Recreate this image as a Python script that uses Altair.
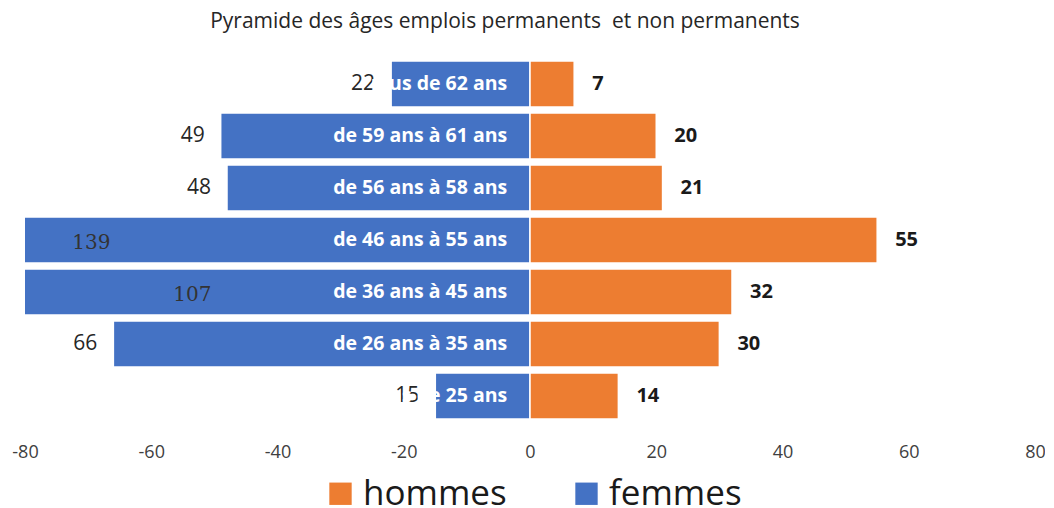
import altair as alt
import pandas as pd

categories = ["plus de 62 ans", "de 59 ans à 61 ans", "de 56 ans à 58 ans",
              "de 46 ans à 55 ans", "de 36 ans à 45 ans", "de 26 ans à 35 ans",
              "moins de 25 ans"]
femmes = [22, 49, 48, 139, 107, 66, 15]
hommes = [7, 20, 21, 55, 32, 30, 14]

BLUE = "#4472C4"
ORANGE = "#ED7D31"
FONT = "Open Sans, sans-serif"

wide = pd.DataFrame({"cat": categories, "femmes": femmes, "hommes": hommes})
long = pd.concat([
    pd.DataFrame({"cat": categories, "sexe": "femmes", "v": [-f for f in femmes]}),
    pd.DataFrame({"cat": categories, "sexe": "hommes", "v": hommes}),
])

ysc = alt.Scale(domain=categories, paddingInner=0.12, paddingOuter=0.06)
xsc = alt.Scale(domain=[-80, 80], nice=False, zero=False)

bars = alt.Chart(long).mark_bar(clip=True, stroke="white", strokeWidth=1.5).encode(
    x=alt.X("v:Q", scale=xsc, title=None,
            axis=alt.Axis(values=list(range(-80, 81, 20)), domain=False, ticks=False,
                          grid=False, labelFontSize=18, labelColor="#404040",
                          labelFont=FONT, labelPadding=21, labelFlush=False,
                          labelBound=False, labelExpr="'' + datum.value")),
    y=alt.Y("cat:N", scale=ysc, axis=None, sort=categories),
    color=alt.Color("sexe:N", title=None,
                    scale=alt.Scale(domain=["hommes", "femmes"], range=[ORANGE, BLUE]),
                    legend=alt.Legend(orient="none", legendX=298, legendY=418,
                                      direction="horizontal", symbolType="square",
                                      symbolSize=500, symbolStrokeWidth=0,
                                      labelFontSize=35, labelFont=FONT,
                                      labelColor="#1a1a1a", labelOffset=5,
                                      columnPadding=62, labelLimit=400)),
)

base = alt.Chart(wide)

fem_out = base.transform_filter("datum.femmes <= 80").transform_calculate(
    px="-datum.femmes").mark_text(align="right", baseline="middle", dx=-16,
                                  fontSize=21, font=FONT, color="#262626").encode(
    x=alt.X("px:Q", scale=xsc), y=alt.Y("cat:N", scale=ysc, sort=categories),
    text="femmes:Q")

fem_in = base.transform_filter("datum.femmes > 80").transform_calculate(
    px="-datum.femmes / 2").mark_text(align="center", baseline="middle", dy=3,
                                      fontSize=20, font="DejaVu Serif, serif",
                                      color="#333333").encode(
    x=alt.X("px:Q", scale=xsc), y=alt.Y("cat:N", scale=ysc, sort=categories),
    text="femmes:Q")

hom = base.mark_text(align="left", baseline="middle", dx=18, fontSize=20,
                     font=FONT, fontWeight="bold", color="#1a1a1a").encode(
    x=alt.X("hommes:Q", scale=xsc), y=alt.Y("cat:N", scale=ysc, sort=categories),
    text="hommes:Q")

cat = base.mark_text(align="right", baseline="middle", fontSize=19.5, font=FONT,
                     fontWeight="bold", color="white").encode(
    x=alt.datum(-3.6, scale=xsc), y=alt.Y("cat:N", scale=ysc, sort=categories),
    text="cat:N")

chart = alt.layer(bars, fem_out, fem_in, cat, hom).properties(
    width=1010, height=364,
    title=alt.TitleParams("Pyramide des âges emplois permanents \u00a0et non permanents",
                          fontSize=21, font=FONT, fontWeight="normal",
                          color="#262626", anchor="middle", dx=-25, offset=26),
    autosize=alt.AutoSizeParams(type="none"),
    padding={"left": 17, "top": 50, "right": 10, "bottom": 84},
).configure_view(stroke=None)

chart.save("out.html", embed_options={"renderer": "svg", "actions": False})
